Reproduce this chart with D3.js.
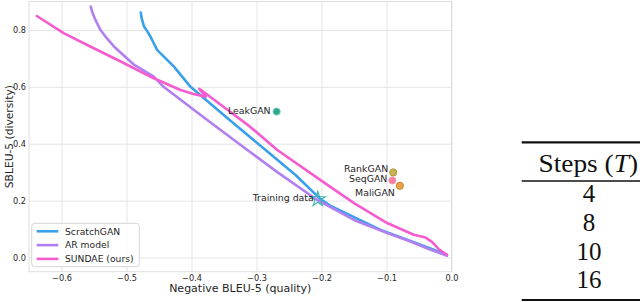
<!DOCTYPE html>
<html><head><meta charset="utf-8">
<script src="https://cdn.jsdelivr.net/npm/d3@7"></script>
<style>body{margin:0;background:#fff}svg{display:block}</style>
</head><body><svg id="c" width="640" height="302"></svg>
<script>
// ---- data ----
const seriesNames = ["ScratchGAN", "AR model", "SUNDAE (ours)"];
const seriesColors = ["#3ba0ea", "#b17ff1", "#f55ccf"];
const scratchGAN = [[-0.478,0.861],[-0.477,0.845],[-0.476,0.835],[-0.473,0.812],[-0.468,0.795],[-0.463,0.776],[-0.453,0.73],[-0.427,0.671],[-0.4015,0.6],[-0.345,0.49],[-0.286,0.378],[-0.24,0.29],[-0.2015,0.205],[-0.185,0.18],[-0.15,0.142],[-0.109,0.097],[-0.06,0.055],[-0.007,0.01]];
const arModel = [[-0.555,0.882],[-0.553,0.865],[-0.55,0.847],[-0.545,0.822],[-0.54,0.8],[-0.53,0.77],[-0.519,0.741],[-0.488,0.677],[-0.458,0.636],[-0.443,0.6],[-0.386,0.501],[-0.327,0.4],[-0.314,0.378],[-0.268,0.3],[-0.207,0.203],[-0.15,0.132],[-0.099,0.086],[-0.063,0.056],[-0.035,0.03],[-0.007,0.006]];
const sundae = [[-0.638,0.849],[-0.596,0.788],[-0.555,0.741],[-0.509,0.689],[-0.458,0.63],[-0.417,0.589],[-0.397,0.575],[-0.378,0.565],[-0.388,0.593],[-0.377,0.575],[-0.355,0.537],[-0.31,0.46],[-0.268,0.378],[-0.2015,0.272],[-0.15,0.191],[-0.099,0.121],[-0.058,0.08],[-0.04,0.07],[-0.03,0.055],[-0.02,0.03],[-0.007,0.0095]];
const pointNames = ["LeakGAN", "RankGAN", "SeqGAN", "MaliGAN", "Training data"];
const pointX = [-0.269, -0.0897, -0.091, -0.0795, -0.2057];
const pointY = [0.513, 0.299, 0.271, 0.252, 0.205];
const pointFill = ["#2ea88e", "#c9b457", "#f67ea4", "#e9a24a", "none"];
const pointStroke = ["#7fcfbf", "#a99a3c", "#f3a3bd", "#c7802a", "#3ab6a6"];
const labelDx = [-6, -5, -5, -5, -4];
const labelDy = [2.5, 0, 2, 10.5, 2.3];
const xTicks = [-0.6, -0.5, -0.4, -0.3, -0.2, -0.1, 0.0];
const yTicks = [0.0, 0.2, 0.4, 0.6, 0.8];
const tableHeader = "Steps";
const tableRows = ["4", "8", "10", "16"];

// ---- chart ----
const svg = d3.select("#c");
const L = 29, R = 451.5, T = 1.5, B = 271.7;
const x = d3.scaleLinear().domain([-0.65, 0.0]).range([L, R]);
const y = d3.scaleLinear().domain([-0.05, 0.9]).range([B, T]);
const fmt = v => d3.format(".1f")(v).replace("-", "\u2212");
const font = "DejaVu Sans, sans-serif";
const txt = "#262626";

// grid
const gx = svg.append("g").attr("transform", `translate(0,${B})`)
  .call(d3.axisBottom(x).tickValues(xTicks).tickSize(-(B - T)).tickFormat(fmt).tickPadding(3));
gx.select(".domain").remove();
gx.selectAll("line").attr("stroke", "#e5e5e5").attr("stroke-width", 1);
gx.selectAll("text").attr("font-family", font).attr("font-size", 8.2).attr("fill", txt).attr("y", 3);
const gy = svg.append("g").attr("transform", `translate(${L},0)`)
  .call(d3.axisLeft(y).tickValues(yTicks).tickSize(-(R - L)).tickFormat(fmt).tickPadding(3));
gy.select(".domain").remove();
gy.selectAll("line").attr("stroke", "#e5e5e5").attr("stroke-width", 1);
gy.selectAll("text").attr("font-family", font).attr("font-size", 8.2).attr("fill", txt).attr("x", -3);
svg.append("rect").attr("x", L).attr("y", T).attr("width", R - L).attr("height", B - T)
  .attr("fill", "none").attr("stroke", "#dedede").attr("stroke-width", 1);

// lines
const line = d3.line().x(d => x(d[0])).y(d => y(d[1]));
[scratchGAN, arModel, sundae].forEach((s, i) => {
  svg.append("path").datum(s).attr("d", line).attr("fill", "none")
    .attr("stroke", seriesColors[i]).attr("stroke-width", 2.6)
    .attr("stroke-linejoin", "round").attr("stroke-linecap", "round");
});

// points
pointNames.forEach((n, i) => {
  const px = x(pointX[i]), py = y(pointY[i]);
  if (n === "Training data") {
    svg.append("path").attr("d", d3.symbol(d3.symbolStar, 70)())
      .attr("transform", `translate(${px},${py})`)
      .attr("fill", "none").attr("stroke", pointStroke[i]).attr("stroke-width", 1.1);
  } else {
    svg.append("circle").attr("cx", px).attr("cy", py).attr("r", 3.6)
      .attr("fill", pointFill[i]).attr("stroke", pointStroke[i]).attr("stroke-width", 1);
  }
  svg.append("text").attr("x", px + labelDx[i]).attr("y", py + labelDy[i])
    .attr("text-anchor", "end").attr("font-family", font).attr("font-size", 9.4)
    .attr("fill", txt).text(n);
});

// axis labels
svg.append("text").attr("x", (L + R) / 2).attr("y", 291.5).attr("text-anchor", "middle")
  .attr("font-family", font).attr("font-size", 11).attr("fill", txt).text("Negative BLEU-5 (quality)");
svg.append("text").attr("transform", `translate(13,${(T + B) / 2}) rotate(-90)`).attr("text-anchor", "middle")
  .attr("font-family", font).attr("font-size", 10.7).attr("fill", txt).text("SBLEU-5 (diversity)");

// legend
const lg = svg.append("g");
lg.append("rect").attr("x", 31.7).attr("y", 223.3).attr("width", 107.6).attr("height", 43.4).attr("rx", 3)
  .attr("fill", "#fff").attr("fill-opacity", 0.8).attr("stroke", "#d6d6d6").attr("stroke-width", 1);
seriesNames.forEach((n, i) => {
  const yy = 231.3 + i * 13.8;
  lg.append("line").attr("x1", 36.7).attr("x2", 58.3).attr("y1", yy).attr("y2", yy)
    .attr("stroke", seriesColors[i]).attr("stroke-width", 2.6);
  lg.append("text").attr("x", 65).attr("y", yy).attr("dy", "0.35em").attr("font-family", font)
    .attr("font-size", 9.2).attr("fill", txt).text(n);
});

// table
const serif = "Liberation Serif, Times New Roman, serif";
const tb = svg.append("g");
tb.append("line").attr("x1", 521.7).attr("x2", 640).attr("y1", 142.3).attr("y2", 142.3).attr("stroke", "#111").attr("stroke-width", 2.2);
tb.append("line").attr("x1", 521.7).attr("x2", 640).attr("y1", 181).attr("y2", 181).attr("stroke", "#111").attr("stroke-width", 1.3);
tb.append("line").attr("x1", 521.7).attr("x2", 640).attr("y1", 300).attr("y2", 300).attr("stroke", "#111").attr("stroke-width", 2.2);
const h = tb.append("text").attr("x", 538.5).attr("y", 171.7).attr("font-family", serif).attr("font-size", 25).attr("fill", "#111")
  .attr("textLength", 99.5).attr("lengthAdjust", "spacingAndGlyphs");
h.append("tspan").text(tableHeader + " (");
h.append("tspan").attr("font-style", "italic").text("T");
h.append("tspan").text(")");
tableRows.forEach((r, i) => {
  tb.append("text").attr("x", 589).attr("y", 201.7 + i * 28.9).attr("text-anchor", "middle")
    .attr("font-family", serif).attr("font-size", 25).attr("fill", "#111").text(r);
});
</script></body></html>
